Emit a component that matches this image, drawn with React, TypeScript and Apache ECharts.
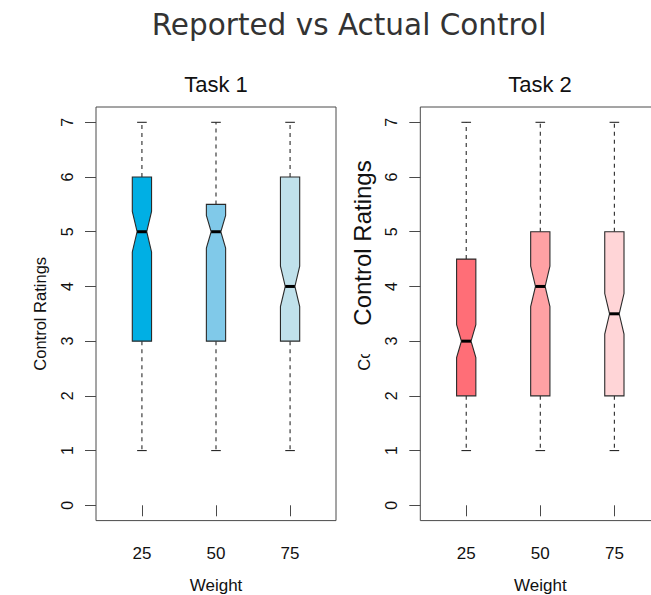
import React, { useEffect, useRef } from "react";
import * as echarts from "echarts";

// ---- data ----
const categories = ["25", "50", "75"];
const yTicks = [0, 1, 2, 3, 4, 5, 6, 7];

const task1Low = [1, 1, 1];
const task1Q1 = [3, 3, 3];
const task1Median = [5, 5, 4];
const task1Q3 = [6, 5.5, 6];
const task1High = [7, 7, 7];
const task1NotchHalf = [0.37, 0.3, 0.37];

const task2Low = [1, 1, 1];
const task2Q1 = [2, 2, 2];
const task2Median = [3, 4, 3.5];
const task2Q3 = [4.5, 5, 5];
const task2High = [7, 7, 7];
const task2NotchHalf = [0.3, 0.37, 0.37];

// ---- styles ----
const task1Colors = ["#00AFE4", "#80C9E9", "#C0E1EB"];
const task2Colors = ["#FF6E77", "#FFA1A4", "#FFD5D7"];
const BOX_W = 0.26;
const FONT = "'Liberation Sans', Arial, Helvetica, sans-serif";
const AXIS_GRAY = "#4a4a4a";

function rows(low: number[], q1: number[], med: number[], q3: number[], high: number[], notch: number[]) {
  return categories.map((_, i) => [i + 1, low[i], q1[i], med[i], q3[i], high[i], notch[i]]);
}

function makeRender(colors: string[]) {
  return (params: any, api: any) => {
    const x = api.value(0);
    const low = api.value(1);
    const q1 = api.value(2);
    const med = api.value(3);
    const q3 = api.value(4);
    const high = api.value(5);
    const nh = api.value(6);
    const cx = api.coord([x, med])[0];
    const hw = api.size([BOX_W, 0])[0] / 2;
    const y = (v: number) => api.coord([x, v])[1];
    const L = cx - hw;
    const R = cx + hw;
    const lineStyle = { stroke: "#2a2a2a", lineWidth: 1.1 };
    const dashStyle = { stroke: "#2a2a2a", lineWidth: 1.1, lineDash: [4, 4] };
    return {
      type: "group",
      children: [
        { type: "line", shape: { x1: cx, y1: y(q3), x2: cx, y2: y(high) }, style: dashStyle },
        { type: "line", shape: { x1: cx, y1: y(q1), x2: cx, y2: y(low) }, style: dashStyle },
        { type: "line", shape: { x1: cx - hw / 2, y1: y(high), x2: cx + hw / 2, y2: y(high) }, style: lineStyle },
        { type: "line", shape: { x1: cx - hw / 2, y1: y(low), x2: cx + hw / 2, y2: y(low) }, style: lineStyle },
        {
          type: "polygon",
          shape: {
            points: [
              [L, y(q3)],
              [R, y(q3)],
              [R, y(med + nh)],
              [cx + hw / 2, y(med)],
              [R, y(med - nh)],
              [R, y(q1)],
              [L, y(q1)],
              [L, y(med - nh)],
              [cx - hw / 2, y(med)],
              [L, y(med + nh)],
            ],
          },
          style: { fill: colors[params.dataIndex], stroke: "#2a2a2a", lineWidth: 1.1 },
        },
        {
          type: "line",
          shape: { x1: cx - hw / 2, y1: y(med), x2: cx + hw / 2, y2: y(med) },
          style: { stroke: "#000", lineWidth: 3 },
        },
      ],
    };
  };
}

function xAxis(gridIndex: number) {
  return {
    type: "value",
    gridIndex,
    min: 0.38,
    max: 3.62,
    name: "Weight",
    nameLocation: "middle",
    nameGap: 56,
    nameTextStyle: { fontFamily: FONT, fontSize: 17, color: "#111" },
    axisLine: { show: false },
    axisTick: { show: true, length: 11, customValues: [1, 2, 3], lineStyle: { color: AXIS_GRAY } },
    axisLabel: {
      customValues: [1, 2, 3],
      margin: 24,
      fontFamily: FONT,
      fontSize: 17,
      color: "#111",
      formatter: (v: number) => categories[Math.round(v) - 1] ?? "",
    },
    splitLine: { show: false },
  };
}

function yAxis(gridIndex: number) {
  return {
    type: "value",
    gridIndex,
    min: -0.28,
    max: 7.28,
    name: "Control Ratings",
    nameLocation: "middle",
    nameRotate: 90,
    nameGap: 48,
    nameTextStyle: { fontFamily: FONT, fontSize: 16.5, color: "#111" },
    axisLine: { show: false },
    axisTick: { show: true, length: 11, customValues: yTicks, lineStyle: { color: AXIS_GRAY } },
    axisLabel: {
      customValues: yTicks,
      rotate: 90,
      margin: 21,
      fontFamily: FONT,
      fontSize: 16,
      color: "#111",
    },
    splitLine: { show: false },
  };
}

export default function App() {
  const ref = useRef<HTMLDivElement>(null);
  useEffect(() => {
    if (!ref.current) return;
    const chart = echarts.init(ref.current, undefined, { renderer: "svg" });
    const gridBase = {
      top: 107,
      height: 413.6,
      width: 240,
      show: true,
      borderColor: AXIS_GRAY,
      borderWidth: 1,
      backgroundColor: "transparent",
      containLabel: false,
      outerBoundsMode: "none",
    };
    chart.setOption({
      animation: false,
      backgroundColor: "#fff",
      grid: [
        { ...gridBase, left: 96 },
        { ...gridBase, left: 420.3 },
      ],
      xAxis: [xAxis(0), xAxis(1)],
      yAxis: [yAxis(0), yAxis(1)],
      series: [
        {
          type: "custom",
          name: "Task 1",
          xAxisIndex: 0,
          yAxisIndex: 0,
          renderItem: makeRender(task1Colors),
          encode: { x: 0, y: [1, 2, 3, 4, 5] },
          data: rows(task1Low, task1Q1, task1Median, task1Q3, task1High, task1NotchHalf),
          clip: false,
        },
        {
          type: "custom",
          name: "Task 2",
          xAxisIndex: 1,
          yAxisIndex: 1,
          renderItem: makeRender(task2Colors),
          encode: { x: 0, y: [1, 2, 3, 4, 5] },
          data: rows(task2Low, task2Q1, task2Median, task2Q3, task2High, task2NotchHalf),
          clip: false,
        },
      ],
      graphic: [
        {
          type: "text",
          x: 349,
          y: 25,
          z: 100,
          style: {
            text: "Reported vs Actual Control",
            fontFamily: "'DejaVu Sans', Verdana, sans-serif",
            fontSize: 29.5,
            fill: "#333",
            textAlign: "center",
            textVerticalAlign: "middle",
          },
        },
        {
          type: "text",
          x: 216,
          y: 84,
          z: 100,
          style: { text: "Task 1", fontFamily: FONT, fontSize: 22, fill: "#111", textAlign: "center", textVerticalAlign: "middle" },
        },
        {
          type: "text",
          x: 540,
          y: 84,
          z: 100,
          style: { text: "Task 2", fontFamily: FONT, fontSize: 22, fill: "#111", textAlign: "center", textVerticalAlign: "middle" },
        },
        {
          type: "rect",
          z: 100,
          shape: { x: 340, y: 236, width: 36, height: 118 },
          style: { fill: "#fff" },
        },
        {
          type: "text",
          x: 362,
          y: 243,
          rotation: Math.PI / 2,
          z: 101,
          style: { text: "Control Ratings", fontFamily: FONT, fontSize: 24, fill: "#111", textAlign: "center", textVerticalAlign: "middle" },
        },
      ],
    });
    return () => chart.dispose();
  }, []);
  return <div ref={ref} style={{ position: "fixed", left: 0, top: 0, width: 651, height: 595 }} />;
}
